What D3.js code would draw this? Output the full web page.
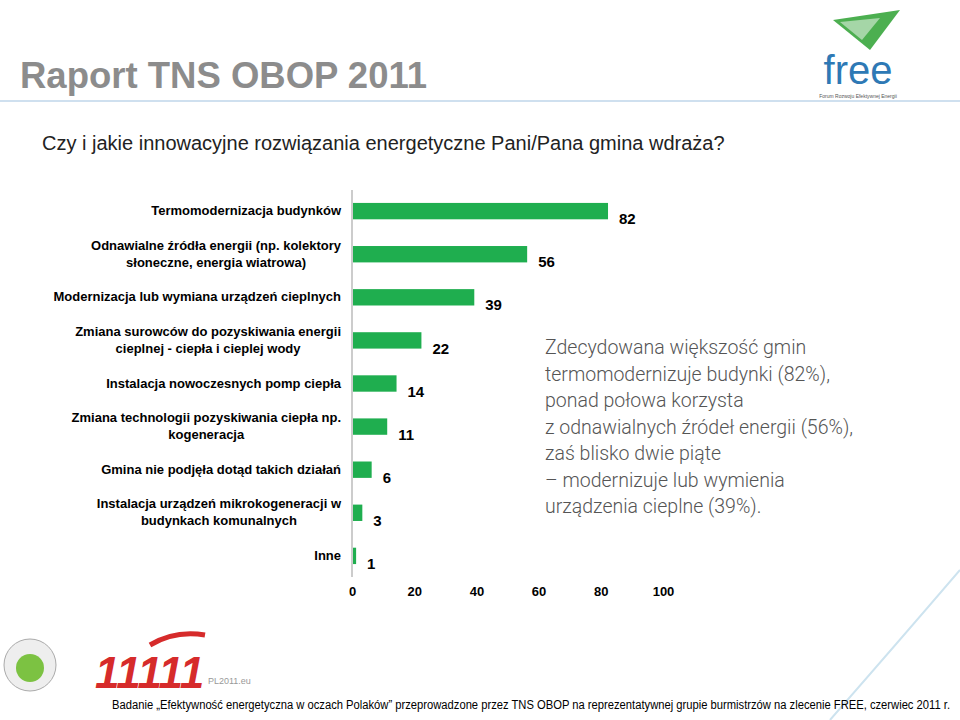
<!DOCTYPE html>
<html><head><meta charset="utf-8">
<script src="https://cdn.jsdelivr.net/npm/d3@7"></script>
<style>body{margin:0;background:#fff}</style></head>
<body><svg id="c" width="960" height="720"></svg>
<script>
const categories = [
  ["Termomodernizacja budynków"],
  ["Odnawialne źródła energii (np. kolektory", "słoneczne, energia wiatrowa)"],
  ["Modernizacja lub wymiana urządzeń cieplnych"],
  ["Zmiana surowców do pozyskiwania energii", "cieplnej - ciepła i cieplej wody"],
  ["Instalacja nowoczesnych pomp ciepła"],
  ["Zmiana technologii pozyskiwania ciepła np.", "kogeneracja"],
  ["Gmina nie podjęła dotąd takich działań"],
  ["Instalacja urządzeń mikrokogeneracji w", "budynkach komunalnych"],
  ["Inne"]
];
const values = [82, 56, 39, 22, 14, 11, 6, 3, 1];
const ticks = [0, 20, 40, 60, 80, 100];
const note = ["Zdecydowana większość gmin", "termomodernizuje budynki (82%),", "ponad połowa korzysta",
  "z odnawialnych źródeł energii (56%),", "zaś blisko dwie piąte", "– modernizuje lub wymienia", "urządzenia cieplne (39%)."];

const svg = d3.select('#c');
// header
svg.append('text').attr('x', 20).attr('y', 88).attr('font-family', 'Liberation Sans, Arial')
  .attr('font-size', 36.5).attr('font-weight', 'bold').attr('fill', '#8c8c8c').text('Raport TNS OBOP 2011');
svg.append('line').attr('x1', 0).attr('x2', 960).attr('y1', 101).attr('y2', 101)
  .attr('stroke', '#cfe0ef').attr('stroke-width', 2);
svg.append('text').attr('x', 42).attr('y', 150).attr('font-family', 'Liberation Sans, Arial')
  .attr('font-size', 20).attr('fill', '#222')
  .text('Czy i jakie innowacyjne rozwiązania energetyczne Pani/Pana gmina wdraża?');

// logo FREE (approximation)
const lg = svg.append('g');
lg.append('path').attr('d', 'M833,20 L900,10 L870,50 Z').attr('fill', '#4caf50');
lg.append('path').attr('d', 'M840,22 L880,18 L862,40 Z').attr('fill', '#a5d6a7');
lg.append('text').attr('x', 858).attr('y', 84).attr('text-anchor', 'middle').attr('font-family', 'Liberation Sans, Arial')
  .attr('font-size', 40).attr('fill', '#2e79b5').text('free');
lg.append('text').attr('x', 858).attr('y', 98).attr('text-anchor', 'middle').attr('font-family', 'Liberation Sans, Arial')
  .attr('font-size', 5).attr('fill', '#555').text('Forum Rozwoju Efektywnej Energii');

// chart
const x = d3.scaleLinear().domain([0, 100]).range([352, 663]);
const y = d3.scaleBand().domain(d3.range(values.length)).range([190, 577]).paddingInner(0.62).paddingOuter(0.3);

svg.append('g').attr('transform', 'translate(0,577)')
  .call(d3.axisBottom(x).tickValues(ticks).tickSize(0).tickPadding(10))
  .call(g => g.select('.domain').remove())
  .selectAll('text').attr('font-family', 'Liberation Sans, Arial').attr('font-weight', 'bold').attr('font-size', 13).attr('fill', '#000');
svg.append('line').attr('x1', 352).attr('x2', 352).attr('y1', 190).attr('y2', 577).attr('stroke', '#999');

svg.selectAll('rect.bar').data(values).join('rect').attr('class', 'bar')
  .attr('x', x(0) + 1).attr('y', (d, i) => y(i)).attr('width', d => x(d) - x(0)).attr('height', y.bandwidth())
  .attr('fill', '#1fae4f');
svg.selectAll('text.val').data(values).join('text').attr('class', 'val')
  .attr('x', d => x(d) + 12).attr('y', (d, i) => y(i) + y.bandwidth() + 5)
  .attr('font-family', 'Liberation Sans, Arial').attr('font-weight', 'bold').attr('font-size', 15).text(d => d);

categories.forEach((lines, i) => {
  const cy = y(i) + y.bandwidth() / 2;
  const t = svg.append('text').attr('font-family', 'Liberation Sans, Arial').attr('font-weight', 'bold')
    .attr('font-size', 13).attr('fill', '#000');
  const spans = lines.map((l, j) => t.append('tspan').text(l));
  const w = d3.max(spans, s => s.node().getComputedTextLength());
  const cx = 341 - w / 2;
  spans.forEach((s, j) => s.attr('x', cx).attr('text-anchor', 'middle')
    .attr('y', cy + 4 + (j - (lines.length - 1) / 2) * 17));
});

// annotation
svg.append('g').selectAll('text').data(note).join('text')
  .attr('x', 545).attr('y', (d, i) => 354 + i * 26.5)
  .attr('font-family', 'Roboto, Liberation Sans').attr('font-weight', 300).attr('font-size', 19.5).attr('fill', '#555')
  .text(d => d);

// bottom logos (approximation)
svg.append('circle').attr('cx', 30).attr('cy', 665).attr('r', 26).attr('fill', '#eee').attr('stroke', '#aaa');
svg.append('circle').attr('cx', 30).attr('cy', 668).attr('r', 14).attr('fill', '#7cc242');
svg.append('text').attr('x', 95).attr('y', 688).attr('font-family', 'Liberation Sans').attr('font-weight', 'bold')
  .attr('font-size', 44).attr('fill', '#d62b2b').attr('font-style', 'italic').text('11111');
svg.append('path').attr('d', 'M150,645 Q175,630 205,635').attr('stroke', '#d62b2b').attr('stroke-width', 5).attr('fill', 'none');
svg.append('text').attr('x', 208).attr('y', 684).attr('font-family', 'Liberation Sans').attr('font-size', 9).attr('fill', '#999').text('PL2011.eu');
svg.append('path').attr('d', 'M960,570 Q900,640 830,720').attr('stroke', '#cde3ef').attr('stroke-width', 2).attr('fill', 'none');

svg.append('text').attr('x', 112).attr('y', 709)
  .attr('font-family', 'Liberation Sans, Arial').attr('font-size', 12).attr('fill', '#000')
  .attr('textLength', 838).attr('lengthAdjust', 'spacingAndGlyphs')
  .text('Badanie „Efektywność energetyczna w oczach Polaków” przeprowadzone przez TNS OBOP na reprezentatywnej grupie burmistrzów na zlecenie FREE, czerwiec 2011 r.');
</script></body></html>
